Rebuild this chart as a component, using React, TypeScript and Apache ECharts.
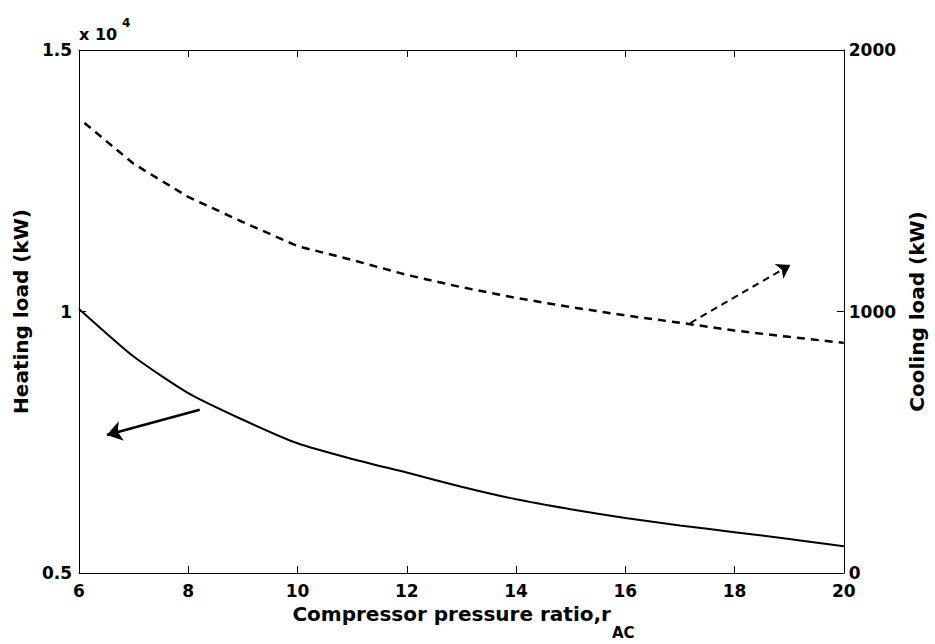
import React, { useEffect, useRef } from "react";
import * as echarts from "echarts";

const xTicks = [6, 8, 10, 12, 14, 16, 18, 20];
const heatX = [6, 7, 8, 9, 10, 11, 12, 13, 14, 15, 16, 17, 18, 19, 20];
const heatY = [1.005, 0.914, 0.844, 0.793, 0.748, 0.718, 0.692, 0.665, 0.641, 0.622, 0.605, 0.591, 0.578, 0.565, 0.551];
const coolX = [6.1, 7, 8, 9, 10, 11, 12, 13, 14, 15, 16, 17, 18, 19, 20];
const coolY = [1721, 1565, 1438, 1342, 1250, 1197, 1140, 1093, 1052, 1017, 985, 957, 927, 903, 880];
const heatArrow = [[8.21, 0.812], [6.51, 0.764]];
const coolArrow = [[17.19, 956], [19.02, 1178]];
const xTitle = "Compressor pressure ratio,r";
const xTitleSub = "AC";

const FONT = "DejaVu Sans";

function textWidth(text: string, size: number) {
  const c = document.createElement("canvas").getContext("2d");
  if (!c) return text.length * size * 0.6;
  c.font = `bold ${size}px "${FONT}"`;
  return c.measureText(text).width;
}

export default function App() {
  const ref = useRef<HTMLDivElement>(null);
  useEffect(() => {
    document.body.style.margin = "0";
    document.body.style.overflow = "hidden";
    const chart = echarts.init(ref.current!, null, { renderer: "svg" });
    const tickLabel = { color: "#000", fontFamily: FONT, fontWeight: "bold" as const, fontSize: 17, lineHeight: 15 };
    const axisLine = { show: true, lineStyle: { color: "#000", width: 1 } };
    const axisTick = { show: true, inside: true, length: 7, lineStyle: { color: "#000", width: 1 } };
    const gridLeft = 79;
    const gridRight = 88;
    const centerX = (gridLeft + (935 - gridRight)) / 2;
    const mainW = textWidth(xTitle, 20);
    const subW = textWidth(xTitleSub, 15);
    const titleLeft = centerX - (mainW + subW) / 2;
    chart.setOption({
      animation: false,
      backgroundColor: "#fff",
      grid: { left: gridLeft, right: gridRight, top: 50, bottom: 71, containLabel: false },
      xAxis: [
        {
          type: "value",
          min: 6,
          max: 20,
          interval: 2,
          position: "bottom",
          axisLine,
          axisTick,
          splitLine: { show: false },
          axisLabel: { ...tickLabel, margin: 10, formatter: (v: number) => (xTicks.includes(v) ? String(v) : "") },
        },
        {
          type: "value",
          min: 6,
          max: 20,
          interval: 2,
          position: "top",
          axisLine,
          axisTick,
          axisLabel: { show: false },
          splitLine: { show: false },
        },
      ],
      yAxis: [
        {
          type: "value",
          min: 0.5,
          max: 1.5,
          interval: 0.5,
          position: "left",
          axisLine,
          axisTick,
          splitLine: { show: false },
          axisLabel: { ...tickLabel, margin: 7 },
          name: "Heating load (kW)",
          nameLocation: "middle",
          nameRotate: 90,
          nameGap: 47,
          nameTextStyle: { fontFamily: FONT, fontWeight: "bold", fontSize: 20, color: "#000" },
        },
        {
          type: "value",
          min: 0,
          max: 2000,
          interval: 1000,
          position: "right",
          axisLine,
          axisTick,
          splitLine: { show: false },
          axisLabel: { ...tickLabel, margin: 5, formatter: (v: number) => String(v) },
          name: "Cooling load (kW)",
          nameLocation: "middle",
          nameRotate: 90,
          nameGap: 53,
          nameTextStyle: { fontFamily: FONT, fontWeight: "bold", fontSize: 20, color: "#000" },
        },
      ],
      graphic: [
        {
          type: "text",
          left: 79,
          top: 26,
          style: { text: "x 10", fontFamily: FONT, fontWeight: "bold", fontSize: 16, fill: "#000" },
        },
        {
          type: "text",
          left: 122,
          top: 17,
          style: { text: "4", fontFamily: FONT, fontWeight: "bold", fontSize: 12, fill: "#000" },
        },
        {
          type: "text",
          left: titleLeft,
          top: 604,
          style: { text: xTitle, fontFamily: FONT, fontWeight: "bold", fontSize: 20, fill: "#000" },
        },
        {
          type: "text",
          left: titleLeft + mainW + 1,
          top: 625,
          style: { text: xTitleSub, fontFamily: FONT, fontWeight: "bold", fontSize: 15, fill: "#000" },
        },
      ],
      series: [
        {
          type: "line",
          xAxisIndex: 0,
          yAxisIndex: 0,
          data: heatX.map((x, i) => [x, heatY[i]]),
          showSymbol: false,
          smooth: 0.2,
          lineStyle: { color: "#000", width: 2 },
          itemStyle: { color: "#000" },
        },
        {
          type: "line",
          xAxisIndex: 0,
          yAxisIndex: 1,
          data: coolX.map((x, i) => [x, coolY[i]]),
          showSymbol: false,
          smooth: false,
          lineStyle: { color: "#000", width: 2.5, type: [8, 6] },
          itemStyle: { color: "#000" },
        },
        {
          type: "lines",
          coordinateSystem: "cartesian2d",
          xAxisIndex: 0,
          yAxisIndex: 0,
          symbol: ["none", "arrow"],
          symbolSize: 15,
          lineStyle: { color: "#000", width: 2.5, opacity: 1, curveness: 0 },
          data: [{ coords: heatArrow }],
        },
        {
          type: "lines",
          coordinateSystem: "cartesian2d",
          xAxisIndex: 0,
          yAxisIndex: 1,
          symbol: ["none", "arrow"],
          symbolSize: 13,
          lineStyle: { color: "#000", width: 2, opacity: 1, curveness: 0, type: [7, 5] },
          data: [{ coords: coolArrow }],
        },
      ],
    });
    return () => chart.dispose();
  }, []);
  return <div ref={ref} style={{ position: "fixed", left: 0, top: 0, width: 935, height: 644 }} />;
}
